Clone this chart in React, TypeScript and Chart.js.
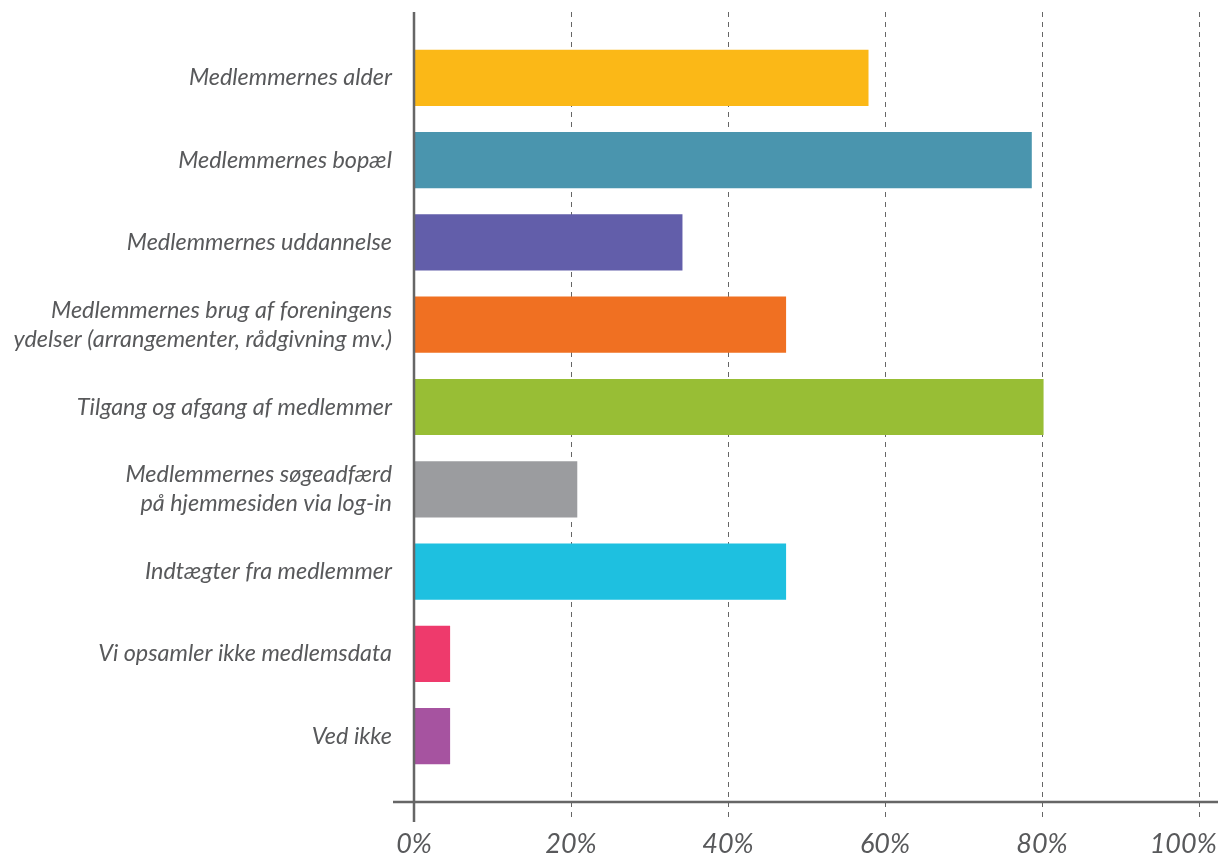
import React, { useEffect, useRef } from "react";
import { Chart, registerables } from "chart.js";

Chart.register(...registerables);

const categories: (string | string[])[] = [
  "Medlemmernes alder",
  "Medlemmernes bopæl",
  "Medlemmernes uddannelse",
  ["Medlemmernes brug af foreningens", "ydelser (arrangementer, rådgivning mv.)"],
  "Tilgang og afgang af medlemmer",
  ["Medlemmernes søgeadfærd", "på hjemmesiden via log-in"],
  "Indtægter fra medlemmer",
  "Vi opsamler ikke medlemsdata",
  "Ved ikke",
];
const values = [57.9, 78.7, 34.2, 47.4, 80.2, 20.8, 47.4, 4.6, 4.6];
const barColors = [
  "#FBB817",
  "#4A95AE",
  "#625EAA",
  "#F07022",
  "#98BE35",
  "#9B9C9F",
  "#1EC0E0",
  "#EE3A6C",
  "#A653A0",
];
const xTicks = [0, 20, 40, 60, 80, 100];
const xTickLabels = ["0%", "20%", "40%", "60%", "80%", "100%\u00A0\u00A0\u00A0\u00A0\u00A0"];

const axisColor = "#666666";
const textColor = "#58595B";

const axisLines = {
  id: "axisLines",
  afterDatasetsDraw(chart: any) {
    const { ctx, chartArea } = chart;
    const x0 = chart.scales.x.getPixelForValue(0);
    ctx.save();
    ctx.strokeStyle = axisColor;
    ctx.setLineDash([]);
    ctx.lineWidth = 2.5;
    ctx.beginPath();
    ctx.moveTo(x0, chartArea.top);
    ctx.lineTo(x0, chartArea.bottom + 20);
    ctx.stroke();
    ctx.beginPath();
    ctx.moveTo(x0 - 21, chartArea.bottom);
    ctx.lineTo(chart.width - 4, chartArea.bottom);
    ctx.stroke();
    ctx.restore();
  },
};

export default function App() {
  const ref = useRef<HTMLCanvasElement | null>(null);
  useEffect(() => {
    if (!ref.current) return;
    const chart = new Chart(ref.current, {
      type: "bar",
      data: {
        datasets: [
          {
            data: values.map((v, i) => ({ x: v, y: i })) as any,
            backgroundColor: barColors,
            borderWidth: 0,
            barPercentage: 0.683,
            categoryPercentage: 1,
          },
        ],
      },
      plugins: [axisLines],
      options: {
        indexAxis: "y",
        animation: false,
        responsive: true,
        maintainAspectRatio: false,
        layout: { padding: { top: 12, right: 23, left: 0, bottom: 0 } },
        plugins: { legend: { display: false }, tooltip: { enabled: false } },
        scales: {
          x: {
            type: "linear",
            min: 0,
            max: 100,
            afterBuildTicks: (axis: any) => {
              axis.ticks = xTicks.map((v) => ({ value: v }));
            },
            afterFit: (scale: any) => {
              scale.height = 55;
              scale.paddingLeft = 0;
              scale.paddingRight = 0;
            },
            border: { display: false, dash: [5, 5] },
            grid: {
              color: (c: any) => (c.tick && c.tick.value === 0 ? "rgba(0,0,0,0)" : axisColor),
              lineWidth: 1,
              tickBorderDash: [5, 5],
              tickLength: 20,
              drawTicks: true,
            },
            ticks: {
              padding: 6,
              color: textColor,
              font: { family: "Lato", style: "italic", size: 27 },
              callback: (_v: any, i: number) => xTickLabels[i],
            },
          },
          y: {
            type: "linear",
            reverse: true,
            offset: false,
            min: -0.8,
            max: 8.8,
            afterBuildTicks: (axis: any) => {
              axis.ticks = categories.map((_, i) => ({ value: i }));
            },
            afterFit: (scale: any) => {
              scale.width = 414;
              scale.paddingTop = 0;
              scale.paddingBottom = 0;
            },
            border: { display: false },
            grid: { display: false, offset: false },
            ticks: {
              padding: 14,
              color: textColor,
              font: { family: "Lato", style: "italic", size: 23.4, lineHeight: 1.25 },
              callback: (v: any) => categories[v as number] as any,
            },
          },
        },
      },
    });
    return () => chart.destroy();
  }, []);
  return (
    <div style={{ position: "fixed", left: 0, top: 0, width: 1222, height: 857, background: "#fff" }}>
      <canvas ref={ref} />
    </div>
  );
}
